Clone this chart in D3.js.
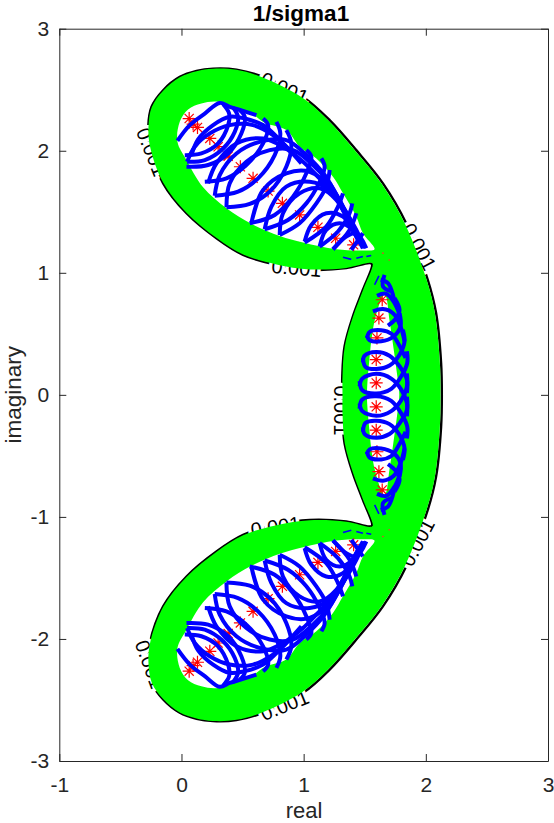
<!DOCTYPE html>
<html lang="en">
<head>
<meta charset="UTF-8">
<title>1/sigma1</title>
<script src="https://d3js.org/d3.v7.min.js"></script>
<style>
  body { margin: 0; background: white; }
  text { font-family: "Liberation Sans", Arial, sans-serif; fill: #262626; }
</style>
</head>
<body>
<div id="chart"></div>
<script>
// the plot is symmetric about the real axis, so only the upper half is listed
const xTicks = [-1, 0, 1, 2, 3];
const yTicks = [-3, -2, -1, 0, 1, 2, 3];

// black level curve
const contourUpper = [[2.131,0],[2.125,.262],[2.084,.670],[2.016,.943],[1.839,1.406],[1.649,1.733],[1.431,2.005],[1.213,2.251],[.995,2.441],[.668,2.605],[.450,2.665],[.259,2.673],[.123,2.654],[-.014,2.605],[-.150,2.496],[-.245,2.360],[-.272,2.196],[-.259,2.033],[-.150,1.733],[.041,1.488],[.286,1.283],[.504,1.147],[.777,1.065],[1.049,1.025],[1.349,1.038],[1.540,1.079],[1.56,1.07],[1.485,.861],[1.403,.643],[1.335,.398],[1.316,.153],[1.316,0]];

// green band, outer edge and the white holes
const greenUpper = [[2.12,0],[2.115,.26],[2.075,.665],[2.007,.94],[1.83,1.40],[1.64,1.727],[1.423,1.998],[1.206,2.244],[.99,2.434],[.665,2.6],[.45,2.663],[.259,2.672],[.123,2.652],[-.014,2.603],[-.148,2.494],[-.243,2.358],[-.27,2.196],[-.257,2.033],[-.148,1.735],[.043,1.49],[.288,1.285],[.505,1.15],[.778,1.068],[1.049,1.028],[1.349,1.04],[1.54,1.082],[1.565,1.075],[1.487,.861],[1.405,.643],[1.337,.398],[1.318,.153],[1.318,0]];
const holeLobe = [[-.033,2.074],[-.014,2.237],[.054,2.338],[.163,2.387],[.300,2.401],[.422,2.346],[.572,2.305],[.681,2.229],[.858,2.169],[.967,2.033],[1.104,1.937],[1.240,1.787],[1.322,1.651],[1.431,1.460],[1.485,1.324],[1.580,1.193],[1.485,1.183],[1.267,1.193],[.995,1.248],[.804,1.302],[.572,1.401],[.368,1.529],[.177,1.700],[.041,1.924]];
const holeMiddleLeft = [[1.653,.813],[1.587,.633],[1.555,.453],[1.538,.289],[1.522,.101],[1.518,0]];
const holeMiddleRight = [[1.783,0],[1.767,.150],[1.734,.395],[1.702,.616],[1.669,.813]];

// blue arcs
const blueLobe = [
  [[.027,1.964],[.163,1.978],[.300,2.060],[.382,2.210],[.390,2.305],[.341,2.381]],
  [[.046,1.910],[.191,1.924],[.341,2.019],[.436,2.155],[.463,2.278],[.422,2.354]],
  [[.041,1.869],[.218,1.883],[.382,1.978],[.490,2.142],[.518,2.278],[.477,2.332]],
  [[.191,1.746],[.368,1.774],[.531,1.883],[.668,2.060],[.709,2.210],[.668,2.264]],
  [[.272,1.632],[.463,1.665],[.627,1.774],[.763,1.964],[.809,2.142],[.777,2.237]],
  [[.368,1.537],[.559,1.564],[.722,1.665],[.858,1.869],[.899,2.060],[.858,2.169]],
  [[.559,1.406],[.763,1.474],[.913,1.624],[1.022,1.815],[1.063,1.951],[1.022,2.005]],
  [[.681,1.357],[.872,1.433],[1.022,1.569],[1.131,1.746],[1.172,1.869],[1.145,1.937]],
  [[.804,1.310],[.967,1.406],[1.104,1.569],[1.185,1.706],[1.213,1.842]],
  [[1.008,1.248],[1.185,1.379],[1.281,1.542],[1.322,1.651]],
  [[1.131,1.215],[1.281,1.338],[1.376,1.488],[1.398,1.569]],
  [[1.240,1.193],[1.376,1.351],[1.431,1.488]],
  [[1.390,1.188],[1.485,1.324]],
  [[-.033,2.082],[.068,2.210],[.191,2.305],[.313,2.392],[.395,2.360],[.504,2.327],[.613,2.292]],
  [[.082,1.964],[.136,2.093],[.259,2.210],[.395,2.278],[.518,2.264],[.668,2.210],[.722,2.169],[.858,2.033],[.981,1.896]],
  [[.046,1.910],[.109,2.033],[.232,2.142],[.395,2.210],[.586,2.210],[.749,2.128],[.886,2.005]],
  [[.218,1.733],[.286,1.896],[.450,2.060],[.668,2.101],[.831,2.033],[.995,1.910],[1.104,1.801],[1.240,1.651],[1.349,1.461]],
  [[.272,1.632],[.313,1.801],[.450,1.978],[.640,2.073],[.858,2.087],[1.022,1.964],[1.172,1.801],[1.281,1.610]],
  [[.368,1.537],[.395,1.733],[.531,1.910],[.722,2.005],[.913,2.005],[1.076,1.883],[1.213,1.733],[1.322,1.542],[1.431,1.351],[1.499,1.201]],
  [[.572,1.406],[.668,1.678],[.858,1.815],[1.049,1.828],[1.240,1.678],[1.349,1.488],[1.431,1.297]],
  [[.681,1.357],[.736,1.542],[.858,1.706],[1.049,1.746],[1.213,1.678],[1.335,1.515],[1.431,1.338]],
  [[.804,1.310],[.831,1.488],[.967,1.651],[1.131,1.692],[1.267,1.597],[1.376,1.406],[1.458,1.242]],
  [[1.008,1.256],[1.063,1.392],[1.185,1.488],[1.322,1.461],[1.431,1.297],[1.485,1.201]],
  [[1.131,1.215],[1.185,1.351],[1.294,1.406],[1.403,1.351],[1.485,1.215]],
  [[1.240,1.193],[1.349,1.297],[1.431,1.324],[1.513,1.201]]
];
const blueMiddle = [
  [[1.458,.071],[1.480,.133],[1.594,.172],[1.717,.133],[1.799,.043],[1.845,-.066],[1.845,-.175]],
  [[1.458,.112],[1.480,.038],[1.594,.011],[1.717,.049],[1.799,.152],[1.848,.261],[1.845,.357]],
  [[1.485,.267],[1.499,.321],[1.594,.351],[1.703,.321],[1.785,.234],[1.845,.125],[1.845,.016]],
  [[1.485,.302],[1.507,.229],[1.594,.212],[1.703,.240],[1.785,.329],[1.826,.439],[1.812,.534]],
  [[1.518,.466],[1.540,.515],[1.635,.529],[1.717,.501],[1.780,.411],[1.834,.302]],
  [[1.518,.485],[1.540,.447],[1.635,.439],[1.731,.474],[1.793,.561],[1.785,.670]],
  [[1.567,.684],[1.649,.703],[1.736,.665],[1.793,.561],[1.826,.439]],
  [[1.690,.567],[1.752,.621],[1.785,.697],[1.744,.793]],
  [[1.600,.812],[1.676,.828],[1.744,.752],[1.785,.657]],
  [[1.630,.943],[1.690,.915],[1.731,.820],[1.744,.752]],
  [[1.662,.984],[1.649,.888],[1.717,.847]]
];
const blueSlivers = [
  [[1.322,1.128],[1.39,1.11]],
  [[1.431,1.12],[1.485,1.134]],
  [[1.513,1.134],[1.553,1.142]],
  [[1.616,.975],[1.581,.902]]
];

// red eigenvalues
const eigRe = [.063,.095,.131,.232,.300,.382,.482,.586,.709,.826,.967,1.117,1.262,1.409,1.643,1.616,1.600,1.594,1.594];
const eigIm = [2.264,2.218,2.191,2.101,2.033,1.956,1.869,1.774,1.670,1.569,1.474,1.373,1.283,1.229,.779,.629,.466,.289,.098];
const neckRe = [1.649,1.70];
const neckIm = [1.161,1.105];

// contour labels
const labelText = "0.001";
const labelRe = [.844,-.243,.942,1.947,1.309,.770,.844,-.259,1.931];
const labelIm = [2.515,1.991,1.042,1.214,-.128,-1.078,-2.543,-2.207,-1.209];
const labelRot = [25,68,5,62,90,-8,-22,70,-62];

const width = 554, height = 823;
const margin = { top: 28.7, right: 6, bottom: 62, left: 59.3 };

const svg = d3.select("#chart").append("svg")
  .attr("width", width)
  .attr("height", height)
  .style("display", "block");

const x = d3.scaleLinear().domain([-1, 3]).range([margin.left, width - margin.right]);
const y = d3.scaleLinear().domain([-3, 3]).range([height - margin.bottom, margin.top]);

const conj = pts => pts.map(([re, im]) => [re, -im]);
// upper half plus its mirror image, without doubling the points on the axis
const closeUp = pts => pts.concat(conj(pts).reverse().slice(1, -1));

const line = d3.line().x(d => x(d[0])).y(d => y(d[1])).curve(d3.curveCatmullRom.alpha(0.5));
const closedLine = d3.line().x(d => x(d[0])).y(d => y(d[1])).curve(d3.curveCatmullRomClosed.alpha(0.5));

// black contour, labels erase it where they sit
svg.append("path")
  .attr("d", closedLine(closeUp(contourUpper)))
  .attr("fill", "none")
  .attr("stroke", "black")
  .attr("stroke-width", 2.4);

svg.selectAll(".clabel")
  .data(labelRe)
  .enter()
  .append("text")
  .attr("class", "clabel")
  .attr("transform", (d, i) => `translate(${x(d)},${y(labelIm[i])}) rotate(${labelRot[i]})`)
  .attr("text-anchor", "middle")
  .attr("dy", "0.36em")
  .attr("font-size", 20)
  .attr("stroke", "white")
  .attr("stroke-width", 7)
  .attr("paint-order", "stroke")
  .style("fill", "black")
  .text(labelText);

// green band
const holeMiddle = holeMiddleLeft
  .concat(conj(holeMiddleLeft).reverse().slice(1))
  .concat(conj(holeMiddleRight).reverse().slice(0, -1))
  .concat(holeMiddleRight);

svg.append("path")
  .attr("d", [
    closedLine(closeUp(greenUpper)),
    closedLine(holeLobe),
    closedLine(conj(holeLobe)),
    closedLine(holeMiddle)
  ].join(""))
  .attr("fill", "#00ff00")
  .attr("fill-rule", "evenodd");

// eigenvalues as asterisks
const asterisk = {
  draw(ctx, size) {
    const r = Math.sqrt(size);
    const k = r * Math.SQRT1_2;
    ctx.moveTo(-r, 0); ctx.lineTo(r, 0);
    ctx.moveTo(0, -r); ctx.lineTo(0, r);
    ctx.moveTo(-k, -k); ctx.lineTo(k, k);
    ctx.moveTo(-k, k); ctx.lineTo(k, -k);
  }
};
const eigs = eigRe.map((re, i) => [re, eigIm[i]]);
svg.selectAll(".eig")
  .data(eigs.concat(conj(eigs)))
  .enter()
  .append("path")
  .attr("class", "eig")
  .attr("transform", d => `translate(${x(d[0])},${y(d[1])})`)
  .attr("d", d3.symbol().type(asterisk).size(42))
  .attr("fill", "none")
  .attr("stroke", "#ff0000")
  .attr("stroke-width", 1.2);

const neck = neckRe.map((re, i) => [re, neckIm[i]]);
svg.selectAll(".neck")
  .data(neck.concat(conj(neck)))
  .enter()
  .append("circle")
  .attr("class", "neck")
  .attr("cx", d => x(d[0]))
  .attr("cy", d => y(d[1]))
  .attr("r", 0.8)
  .attr("fill", "#ff3030");

// blue arcs
const blueAll = blueLobe.concat(blueMiddle);
svg.selectAll(".arc")
  .data(blueAll.concat(blueAll.map(conj)))
  .enter()
  .append("path")
  .attr("class", "arc")
  .attr("d", line)
  .attr("fill", "none")
  .attr("stroke", "#0000ff")
  .attr("stroke-width", 4);

svg.selectAll(".sliver")
  .data(blueSlivers.concat(blueSlivers.map(conj)))
  .enter()
  .append("path")
  .attr("class", "sliver")
  .attr("d", line)
  .attr("fill", "none")
  .attr("stroke", "#0000ff")
  .attr("stroke-width", 1.6);

// axes, ticks point inwards on all four sides
const fmt = d => String(d);
const addAxis = (axis, tx, ty) => {
  const g = svg.append("g")
    .attr("transform", `translate(${tx},${ty})`)
    .call(axis);
  g.selectAll(".domain").attr("stroke", "#262626");
  g.selectAll(".tick line").attr("stroke", "#262626");
  g.selectAll("text").attr("font-size", 21).style("fill", "#262626");
  return g;
};
const plotBottom = height - margin.bottom;
const plotRight = width - margin.right;
addAxis(d3.axisBottom(x).tickValues(xTicks).tickFormat(fmt).tickSizeInner(-7).tickSizeOuter(0).tickPadding(16), 0, plotBottom);
addAxis(d3.axisTop(x).tickValues(xTicks).tickFormat("").tickSizeInner(-7).tickSizeOuter(0), 0, margin.top);
addAxis(d3.axisLeft(y).tickValues(yTicks).tickFormat(fmt).tickSizeInner(-7).tickSizeOuter(0).tickPadding(10), margin.left, 0);
addAxis(d3.axisRight(y).tickValues(yTicks).tickFormat("").tickSizeInner(-7).tickSizeOuter(0), plotRight, 0);

svg.append("text")
  .attr("x", 301)
  .attr("y", 20.5)
  .attr("text-anchor", "middle")
  .attr("font-size", 22.5)
  .attr("font-weight", "bold")
  .style("fill", "black")
  .text("1/sigma1");

svg.append("text")
  .attr("x", 304)
  .attr("y", 818)
  .attr("text-anchor", "middle")
  .attr("font-size", 22)
  .text("real");

svg.append("text")
  .attr("transform", `translate(20.5,${(margin.top + plotBottom) / 2}) rotate(-90)`)
  .attr("text-anchor", "middle")
  .attr("font-size", 22.5)
  .text("imaginary");
</script>
</body>
</html>
